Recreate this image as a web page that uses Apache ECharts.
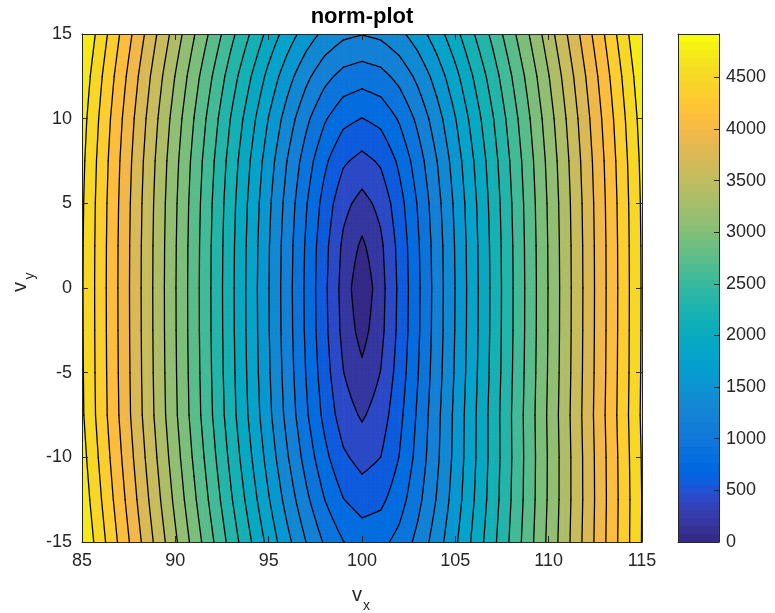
<!DOCTYPE html>
<html>
<head>
<meta charset="utf-8">
<title>norm-plot</title>
<script src="https://cdn.jsdelivr.net/npm/echarts@6.0.0/dist/echarts.min.js"></script>
<style>
html,body{margin:0;padding:0;background:#ffffff;}
#chart{width:775px;height:613px;}
</style>
</head>
<body>
<div id="chart"></div>
<script>
// ---------------- data ----------------
const vxValues = [85, 87, 89, 91, 93, 95, 96, 97, 98, 99, 100, 101, 102, 103, 104, 105, 107, 109, 111, 113, 115];
const vyValues = [-15, -12.5, -10, -7.5, -5, -2.5, 0, 2.5, 5, 7.5, 10, 12.5, 15];
// norm value at (vx, vy): one row per vy value (bottom to top), one entry per vx value
const normRows = [
  [4918, 4298, 3683, 3074, 2476, 1901, 1630, 1378, 1157, 989, 905, 927, 1048, 1240, 1476, 1737, 2301, 2893, 3499, 4113, 4732],
  [4853, 4229, 3607, 2989, 2379, 1785, 1499, 1228, 984, 793, 699, 741, 899, 1126, 1388, 1669, 2259, 2867, 3483, 4104, 4728],
  [4800, 4172, 3546, 2922, 2303, 1693, 1395, 1108, 842, 624, 519, 591, 793, 1053, 1337, 1633, 2241, 2860, 3483, 4109, 4737],
  [4754, 4125, 3496, 2868, 2243, 1623, 1317, 1017, 732, 486, 369, 486, 732, 1017, 1317, 1623, 2243, 2868, 3496, 4125, 4754],
  [4746, 4115, 3484, 2854, 2225, 1598, 1287, 978, 677, 398, 242, 398, 677, 978, 1287, 1598, 2225, 2854, 3484, 4115, 4746],
  [4742, 4110, 3478, 2846, 2215, 1584, 1270, 955, 643, 337, 118, 337, 643, 955, 1270, 1584, 2215, 2846, 3478, 4110, 4742],
  [4740, 4108, 3476, 2844, 2212, 1580, 1265, 949, 633, 318, 35, 318, 633, 949, 1265, 1580, 2212, 2844, 3476, 4108, 4740],
  [4743, 4111, 3480, 2849, 2218, 1588, 1274, 961, 652, 354, 160, 354, 652, 961, 1274, 1588, 2218, 2849, 3480, 4111, 4743],
  [4751, 4121, 3491, 2863, 2236, 1613, 1305, 1002, 710, 453, 324, 453, 710, 1002, 1305, 1613, 2236, 2863, 3491, 4121, 4751],
  [4770, 4142, 3516, 2893, 2275, 1667, 1371, 1087, 826, 618, 531, 618, 826, 1087, 1371, 1667, 2275, 2893, 3516, 4142, 4770],
  [4804, 4182, 3563, 2950, 2346, 1763, 1486, 1229, 1006, 843, 782, 843, 1006, 1229, 1486, 1763, 2346, 2950, 3563, 4182, 4804],
  [4859, 4245, 3637, 3038, 2457, 1908, 1655, 1429, 1242, 1115, 1069, 1115, 1242, 1429, 1655, 1908, 2457, 3038, 3637, 4245, 4859],
  [4938, 4335, 3742, 3163, 2610, 2101, 1875, 1678, 1522, 1421, 1385, 1421, 1522, 1678, 1875, 2101, 2610, 3163, 3742, 4335, 4938]
];
// 24 contour levels, evenly spaced between the colour limits
const contourLevels = [196.8, 393.6, 590.4, 787.2, 984, 1180.8, 1377.6, 1574.4, 1771.2, 1968, 2164.8, 2361.6,
                       2558.4, 2755.2, 2952, 3148.8, 3345.6, 3542.4, 3739.2, 3936, 4132.8, 4329.6, 4526.4, 4723.2];
const colorLimits = [0, 4920];
const xTickValues = [85, 90, 95, 100, 105, 110, 115];
const yTickValues = [-15, -10, -5, 0, 5, 10, 15];
const colorbarTicks = [0, 500, 1000, 1500, 2000, 2500, 3000, 3500, 4000, 4500];
const titleText = 'norm-plot';

// parula colormap (64 entries)
const parula = [
[0.2081,0.1663,0.5292],[0.2116,0.1898,0.5777],[0.2123,0.2138,0.6270],[0.2081,0.2386,0.6771],
[0.1959,0.2645,0.7279],[0.1707,0.2919,0.7792],[0.1253,0.3242,0.8303],[0.0591,0.3598,0.8683],
[0.0117,0.3875,0.8820],[0.0060,0.4086,0.8828],[0.0165,0.4266,0.8786],[0.0329,0.4430,0.8720],
[0.0498,0.4586,0.8641],[0.0629,0.4737,0.8554],[0.0723,0.4887,0.8467],[0.0779,0.5040,0.8384],
[0.0793,0.5200,0.8312],[0.0749,0.5375,0.8263],[0.0641,0.5570,0.8240],[0.0488,0.5772,0.8228],
[0.0343,0.5966,0.8199],[0.0265,0.6137,0.8135],[0.0239,0.6287,0.8038],[0.0231,0.6418,0.7913],
[0.0228,0.6535,0.7768],[0.0267,0.6642,0.7607],[0.0384,0.6743,0.7436],[0.0590,0.6838,0.7254],
[0.0843,0.6928,0.7062],[0.1133,0.7015,0.6859],[0.1453,0.7098,0.6646],[0.1801,0.7177,0.6424],
[0.2178,0.7250,0.6193],[0.2586,0.7317,0.5954],[0.3022,0.7376,0.5712],[0.3482,0.7424,0.5473],
[0.3953,0.7459,0.5244],[0.4420,0.7481,0.5033],[0.4871,0.7491,0.4840],[0.5300,0.7491,0.4661],
[0.5709,0.7485,0.4494],[0.6099,0.7473,0.4337],[0.6473,0.7456,0.4188],[0.6834,0.7435,0.4044],
[0.7184,0.7411,0.3905],[0.7525,0.7384,0.3768],[0.7858,0.7356,0.3633],[0.8185,0.7327,0.3498],
[0.8507,0.7299,0.3360],[0.8824,0.7274,0.3217],[0.9139,0.7258,0.3063],[0.9450,0.7261,0.2886],
[0.9739,0.7314,0.2666],[0.9938,0.7455,0.2403],[0.9990,0.7653,0.2164],[0.9955,0.7861,0.1967],
[0.9880,0.8066,0.1794],[0.9789,0.8271,0.1633],[0.9697,0.8481,0.1475],[0.9626,0.8705,0.1309],
[0.9589,0.8949,0.1132],[0.9598,0.9218,0.0948],[0.9661,0.9514,0.0755],[0.9763,0.9831,0.0538]
];

// ---------------- helpers ----------------
const FONT = '"Liberation Sans", Arial, Helvetica, sans-serif';
const INK = '#262626';
function toHex(c) {
  return '#' + c.map(function (x) { const h = Math.round(x * 255).toString(16); return h.length < 2 ? '0' + h : h; }).join('');
}
const parulaHex = parula.map(toHex);
function cmapColor(v) {
  const t = (v - colorLimits[0]) / (colorLimits[1] - colorLimits[0]);
  let i = Math.floor(t * parulaHex.length + 1e-9);
  i = Math.max(0, Math.min(parulaHex.length - 1, i));
  return parulaHex[i];
}
function bandOf(v) { let k = 0; while (k < contourLevels.length && v >= contourLevels[k]) k++; return k; }
function bandColor(k) { return cmapColor(k === 0 ? colorLimits[0] : contourLevels[k - 1]); }

// cells of the data grid
const cells = [];
for (let j = 0; j < vyValues.length - 1; j++) {
  for (let i = 0; i < vxValues.length - 1; i++) {
    cells.push([vxValues[i], vyValues[j], vxValues[i + 1], vyValues[j + 1],
      normRows[j][i], normRows[j][i + 1], normRows[j + 1][i], normRows[j + 1][i + 1]]);
  }
}

function cellTriangles(api) {
  const x0 = api.value(0), y0 = api.value(1), x1 = api.value(2), y1 = api.value(3);
  const v00 = api.value(4), v10 = api.value(5), v01 = api.value(6), v11 = api.value(7);
  const a = api.coord([x0, y0]), b = api.coord([x1, y1]);
  const nx = Math.max(1, Math.ceil(Math.abs(b[0] - a[0]) / 4));
  const ny = Math.max(1, Math.ceil(Math.abs(b[1] - a[1]) / 4));
  const pts = [];
  for (let r = 0; r <= ny; r++) {
    const w = r / ny, row = [];
    for (let c = 0; c <= nx; c++) {
      const u = c / nx;
      const val = v00 * (1 - u) * (1 - w) + v10 * u * (1 - w) + v01 * (1 - u) * w + v11 * u * w;
      row.push([a[0] + (b[0] - a[0]) * u, a[1] + (b[1] - a[1]) * w, val]);
    }
    pts.push(row);
  }
  const tris = [];
  for (let r = 0; r < ny; r++) {
    for (let c = 0; c < nx; c++) {
      const p = pts[r][c], q = pts[r][c + 1], s = pts[r + 1][c + 1], t = pts[r + 1][c];
      tris.push([p, q, s], [p, s, t]);
    }
  }
  return tris;
}
function clipPoly(poly, L, keepAbove) {
  const out = [], n = poly.length;
  for (let i = 0; i < n; i++) {
    const P = poly[i], Q = poly[(i + 1) % n];
    const pin = keepAbove ? P[2] >= L : P[2] <= L;
    const qin = keepAbove ? Q[2] >= L : Q[2] <= L;
    if (pin) out.push(P);
    if (pin !== qin) {
      const t = (L - P[2]) / (Q[2] - P[2]);
      out.push([P[0] + (Q[0] - P[0]) * t, P[1] + (Q[1] - P[1]) * t, L]);
    }
  }
  return out;
}
function f2(x) { return x.toFixed(2); }

function renderFill(params, api) {
  const tris = cellTriangles(api);
  const paths = {};
  for (const tri of tris) {
    let lo = Infinity, hi = -Infinity;
    for (const p of tri) { if (p[2] < lo) lo = p[2]; if (p[2] > hi) hi = p[2]; }
    const b0 = bandOf(lo), b1 = bandOf(hi);
    for (let k = b0; k <= b1; k++) {
      let poly = tri;
      if (k > 0) poly = clipPoly(poly, contourLevels[k - 1], true);
      if (poly.length >= 3 && k < contourLevels.length) poly = clipPoly(poly, contourLevels[k], false);
      if (poly.length < 3) continue;
      let s = 'M' + f2(poly[0][0]) + ' ' + f2(poly[0][1]);
      for (let i = 1; i < poly.length; i++) s += 'L' + f2(poly[i][0]) + ' ' + f2(poly[i][1]);
      s += 'Z';
      (paths[k] = paths[k] || []).push(s);
    }
  }
  const children = [];
  Object.keys(paths).forEach(function (k) {
    const col = bandColor(+k);
    children.push({ type: 'path', silent: true, shape: { pathData: paths[k].join('') },
      style: { fill: col, stroke: col, lineWidth: 0.8 } });
  });
  return { type: 'group', children: children };
}

function renderLines(params, api) {
  const tris = cellTriangles(api);
  const segs = [];
  for (const tri of tris) {
    let lo = Infinity, hi = -Infinity;
    for (const p of tri) { if (p[2] < lo) lo = p[2]; if (p[2] > hi) hi = p[2]; }
    for (const L of contourLevels) {
      if (!(L > lo && L <= hi)) continue;
      const pts = [];
      for (let e = 0; e < 3; e++) {
        const P = tri[e], Q = tri[(e + 1) % 3];
        if ((P[2] < L) !== (Q[2] < L)) {
          const t = (L - P[2]) / (Q[2] - P[2]);
          pts.push([P[0] + (Q[0] - P[0]) * t, P[1] + (Q[1] - P[1]) * t]);
        }
      }
      if (pts.length === 2) segs.push('M' + f2(pts[0][0]) + ' ' + f2(pts[0][1]) + 'L' + f2(pts[1][0]) + ' ' + f2(pts[1][1]));
    }
  }
  if (!segs.length) return { type: 'group', children: [] };
  return { type: 'path', silent: true, shape: { pathData: segs.join('') },
    style: { fill: 'none', stroke: '#000000', lineWidth: 1.3, lineCap: 'round', lineJoin: 'round' } };
}

// colorbar cells
const cbStep = (colorLimits[1] - colorLimits[0]) / parulaHex.length;
const colorbarCells = parulaHex.map(function (c, i) {
  return [0, colorLimits[0] + i * cbStep, 1, colorLimits[0] + (i + 1) * cbStep, i];
});
function renderColorbar(params, api) {
  const a = api.coord([api.value(0), api.value(1)]);
  const b = api.coord([api.value(2), api.value(3)]);
  const col = parulaHex[api.value(4)];
  const y0 = Math.round(b[1]), y1 = Math.round(a[1]);
  return { type: 'rect', silent: true,
    shape: { x: Math.round(a[0]), y: y0, width: Math.round(b[0]) - Math.round(a[0]), height: y1 - y0 },
    style: { fill: col } };
}

// ---------------- chart ----------------
const chart = echarts.init(document.getElementById('chart'), null, { renderer: 'canvas' });
const tickLabel = { color: INK, fontSize: 18, fontFamily: FONT };
const lineStyle = { color: INK, width: 1 };
function inList(list) { return function (v) { return list.indexOf(v) >= 0 ? String(v) : ''; }; }
function frameAxis(extra) {
  return Object.assign({
    type: 'value', z: 10,
    axisLine: { show: true, onZero: false, lineStyle: lineStyle },
    axisTick: { show: false }, minorTick: { show: false },
    axisLabel: { show: false }, splitLine: { show: false }, minorSplitLine: { show: false }
  }, extra);
}

const option = {
  animation: false,
  backgroundColor: '#ffffff',
  grid: [
    { left: 82, right: 133, top: 34, bottom: 71, containLabel: false, outerBoundsMode: 'none' },
    { left: 678, width: 41, top: 34, bottom: 71, containLabel: false, outerBoundsMode: 'none' }
  ],
  xAxis: [
    frameAxis({ gridIndex: 0, min: xTickValues[0], max: xTickValues[xTickValues.length - 1], interval: 5,
      position: 'bottom',
      axisTick: { show: true, inside: true, length: 6, lineStyle: lineStyle },
      axisLabel: Object.assign({ show: true, margin: 10, formatter: inList(xTickValues) }, tickLabel) }),
    frameAxis({ gridIndex: 0, min: xTickValues[0], max: xTickValues[xTickValues.length - 1], interval: 5,
      position: 'top',
      axisTick: { show: true, inside: true, length: 6, lineStyle: lineStyle } }),
    frameAxis({ gridIndex: 1, min: 0, max: 1, position: 'bottom' }),
    frameAxis({ gridIndex: 1, min: 0, max: 1, position: 'top' })
  ],
  yAxis: [
    frameAxis({ gridIndex: 0, min: yTickValues[0], max: yTickValues[yTickValues.length - 1], interval: 5,
      position: 'left',
      axisTick: { show: true, inside: true, length: 6, lineStyle: lineStyle },
      axisLabel: Object.assign({ show: true, margin: 10, formatter: inList(yTickValues) }, tickLabel) }),
    frameAxis({ gridIndex: 0, min: yTickValues[0], max: yTickValues[yTickValues.length - 1], interval: 5,
      position: 'right',
      axisTick: { show: true, inside: true, length: 6, lineStyle: lineStyle } }),
    frameAxis({ gridIndex: 1, min: colorLimits[0], max: colorLimits[1], interval: 500,
      position: 'right',
      axisTick: { show: true, inside: true, length: 5, lineStyle: lineStyle },
      axisLabel: Object.assign({ show: true, margin: 7, showMaxLabel: false, formatter: inList(colorbarTicks) }, tickLabel) }),
    frameAxis({ gridIndex: 1, min: colorLimits[0], max: colorLimits[1], interval: 500, position: 'left' })
  ],
  series: [
    { type: 'custom', name: 'filled', xAxisIndex: 0, yAxisIndex: 0, coordinateSystem: 'cartesian2d',
      data: cells, encode: { x: [0, 2], y: [1, 3] }, renderItem: renderFill, clip: true, silent: true, z: 2 },
    { type: 'custom', name: 'contours', xAxisIndex: 0, yAxisIndex: 0, coordinateSystem: 'cartesian2d',
      data: cells, encode: { x: [0, 2], y: [1, 3] }, renderItem: renderLines, clip: true, silent: true, z: 3 },
    { type: 'custom', name: 'colorbar', xAxisIndex: 2, yAxisIndex: 2, coordinateSystem: 'cartesian2d',
      data: colorbarCells, encode: { x: [0, 2], y: [1, 3] }, renderItem: renderColorbar, clip: true, silent: true, z: 2 }
  ],
  graphic: [
    { type: 'text', x: 362, y: 17, silent: true,
      style: { text: titleText, fontFamily: FONT, fontSize: 22, fontWeight: 'bold', fill: '#000000', align: 'center', verticalAlign: 'middle' } },
    { type: 'text', x: 357, y: 595, silent: true,
      style: { text: 'v', fontFamily: FONT, fontSize: 20, fill: INK, align: 'center', verticalAlign: 'middle' } },
    { type: 'text', x: 366.5, y: 606, silent: true,
      style: { text: 'x', fontFamily: FONT, fontSize: 14, fill: INK, align: 'center', verticalAlign: 'middle' } },
    { type: 'text', x: 20, y: 287, rotation: Math.PI / 2, silent: true,
      style: { text: 'v', fontFamily: FONT, fontSize: 20, fill: INK, align: 'center', verticalAlign: 'middle' } },
    { type: 'text', x: 30, y: 276, rotation: Math.PI / 2, silent: true,
      style: { text: 'y', fontFamily: FONT, fontSize: 14, fill: INK, align: 'center', verticalAlign: 'middle' } }
  ]
};
chart.setOption(option);
</script>
</body>
</html>
